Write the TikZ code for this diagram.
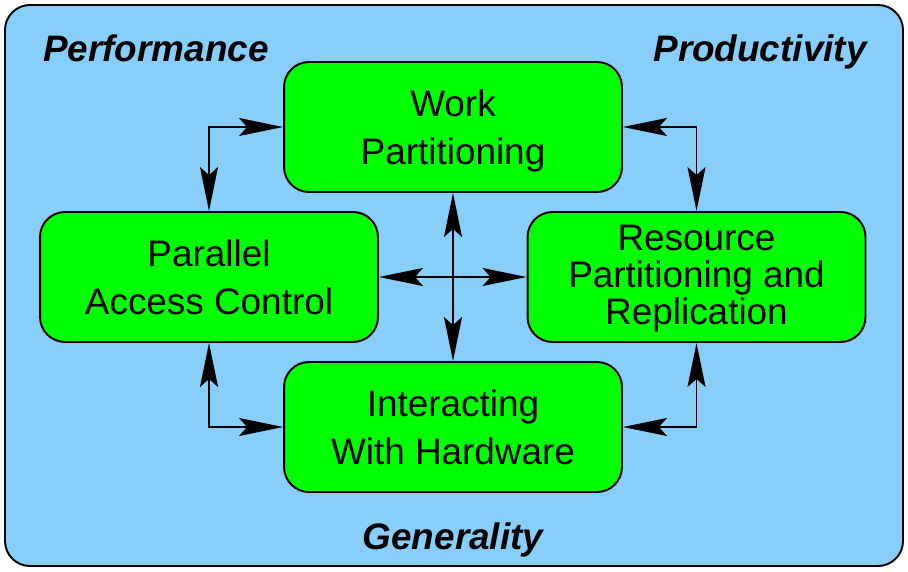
\documentclass[tikz,border=0pt]{standalone}
\usepackage{fontspec}
\setmainfont{Liberation Sans}
\usepackage{xcolor}
\usetikzlibrary{arrows.meta, positioning}
\definecolor{skyback}{RGB}{135,206,250}
\definecolor{boxgreen}{RGB}{0,255,0}
\tikzstyle{link} = [line width=1.1pt, {Stealth[length=0.88cm, width=0.36cm, inset=0.16cm]}-{Stealth[length=0.88cm, width=0.36cm, inset=0.16cm]}]

\begin{document}
\begin{tikzpicture}[
		x=0.02cm, y=-0.02cm,
		area/.style={draw, line width=1.1pt, align=center, fill=boxgreen, rounded corners=0.5cm, minimum width=6.76cm, minimum height=2.6cm, inner sep=0pt, text depth=-0.08cm, font=\fontsize{21}{27.4}\selectfont},
		corner/.style={anchor=base, font=\fontsize{21}{25}\selectfont\bfseries\itshape}
		]
		
		\useasboundingbox (0,0) rectangle (908,571);
		\draw[line width=1.1pt, fill=skyback, rounded corners=0.5cm] (5,5) rectangle (903,566);
		
		\node[corner] (perf) at (156,62) {Performance};
		\node[corner] (prod) at (760,62) {Productivity};
		\node[corner] (gen) at (453,549) {Generality};
		
		\node[area] (work) at (453,127) {Work\\Partitioning};
		\node[area] (pac) at (209,277) {Parallel\\Access Control};
		\node[area, text depth=0.1cm, font=\fontsize{21}{21}\selectfont] (res) at (696.5,277) {Resource\\Partitioning and\\Replication};
		\node[area] (hw) at (453,427) {Interacting\\With Hardware};
		
		\draw[link] (pac.north) |- (work.west);
		\draw[link] (work.east) -| (res.north);
		\draw[link] (pac.south) |- (hw.west);
		\draw[link] (hw.east) -| (res.south);
		
		\draw[link] (work.south) -- (hw.north);
		\draw[link] (pac.east) -- (res.west);
	\end{tikzpicture}
\end{document}
